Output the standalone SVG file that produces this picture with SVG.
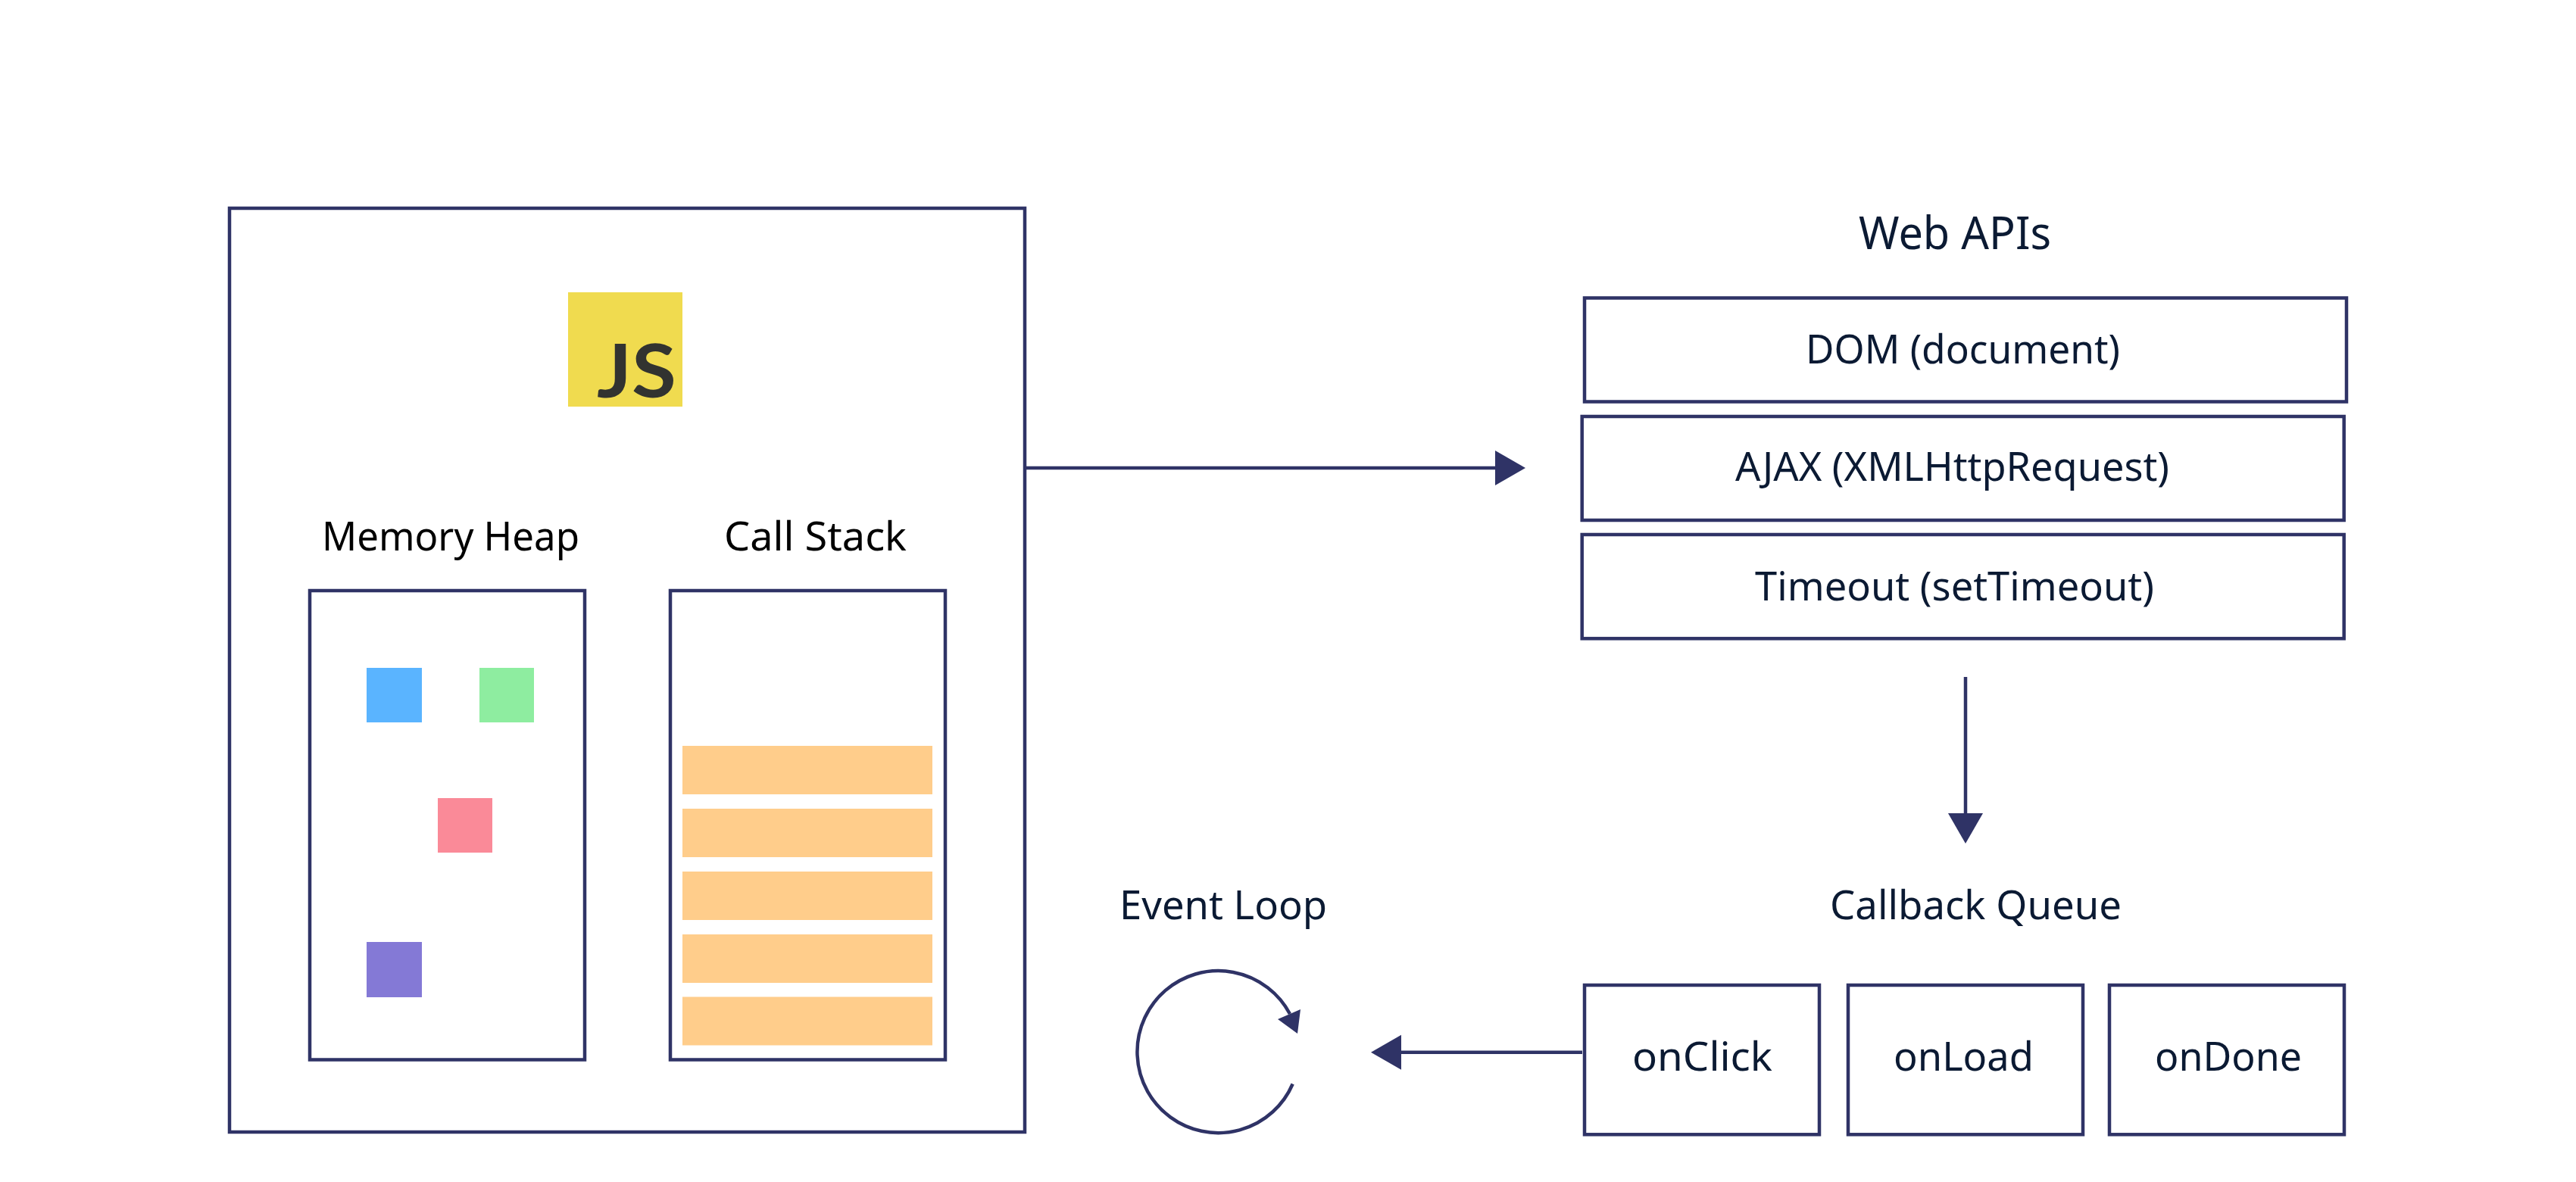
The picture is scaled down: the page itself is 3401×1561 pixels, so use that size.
<svg xmlns="http://www.w3.org/2000/svg" width="3401" height="1561" viewBox="0 0 3401 1561">
<style>
.b{fill:#fff;stroke:#2f3366;stroke-width:4.500}
.c{fill:none;stroke:#2f3366;stroke-width:4.500}
.t{font-family:"Noto Sans","Lato",sans-serif;font-size:53px;fill:#0b1a33}
.k{fill:#000}
.o{fill:#ffcd8b}
</style>
<defs>
<marker id="ah" markerUnits="userSpaceOnUse" markerWidth="42" markerHeight="48" refX="1" refY="24" orient="auto"><path d="M0 1L40 24L0 47Z" fill="#2f3366"/></marker>
</defs>
<rect width="3401" height="1561" fill="#fff"/>
<g id="engine">
<rect class="b" x="303" y="275" width="1050" height="1220"/>
<rect x="750" y="386" width="151" height="151" fill="#f0db4f"/>
<text x="788" y="525" font-family="Lato,sans-serif" font-weight="700" font-size="97" fill="#323330" textLength="105" lengthAdjust="spacingAndGlyphs">JS</text>
</g>
<g id="memory-heap">
<text class="t k" x="425" y="727" textLength="340" lengthAdjust="spacingAndGlyphs">Memory Heap</text>
<rect class="b" x="409" y="780" width="363" height="619.500"/>
<rect x="484" y="882" width="73" height="72" fill="#5ab4ff"/>
<rect x="633" y="882" width="72" height="72" fill="#8eeda0"/>
<rect x="578" y="1054" width="72" height="72" fill="#fa8a98"/>
<rect x="484" y="1244" width="73" height="73" fill="#8479d6"/>
</g>
<g id="call-stack">
<text class="t k" x="956" y="727" textLength="241" lengthAdjust="spacingAndGlyphs">Call Stack</text>
<rect class="b" x="885" y="780" width="363" height="619.500"/>
<rect class="o" x="901" y="985" width="330" height="64"/>
<rect class="o" x="901" y="1068" width="330" height="64"/>
<rect class="o" x="901" y="1151" width="330" height="64"/>
<rect class="o" x="901" y="1234" width="330" height="64"/>
<rect class="o" x="901" y="1316.500" width="330" height="64"/>
</g>
<g id="web-apis">
<text class="t" x="2454" y="329" style="font-size:60px" textLength="254" lengthAdjust="spacingAndGlyphs">Web APIs</text>
<g id="dom"><rect class="b" x="2092" y="393.500" width="1006" height="137"/>
<text class="t" x="2384" y="480" textLength="415" lengthAdjust="spacingAndGlyphs">DOM (document)</text></g>
<g id="ajax"><rect class="b" x="2088.700" y="550" width="1006" height="137"/>
<text class="t" x="2291" y="635" textLength="573" lengthAdjust="spacingAndGlyphs">AJAX (XMLHttpRequest)</text></g>
<g id="timeout"><rect class="b" x="2088.700" y="706" width="1006" height="137.300"/>
<text class="t" x="2317" y="793" textLength="527" lengthAdjust="spacingAndGlyphs">Timeout (setTimeout)</text></g>
</g>
<g id="callback-queue">
<text class="t" x="2416" y="1214" textLength="385" lengthAdjust="spacingAndGlyphs">Callback Queue</text>
<g id="onclick"><rect class="b" x="2092" y="1301" width="310" height="197.300"/>
<text class="t" x="2155" y="1414" textLength="185" lengthAdjust="spacingAndGlyphs">onClick</text></g>
<g id="onload"><rect class="b" x="2440" y="1301" width="310" height="197.300"/>
<text class="t" x="2500" y="1414" textLength="185" lengthAdjust="spacingAndGlyphs">onLoad</text></g>
<g id="ondone"><rect class="b" x="2785" y="1301" width="310" height="197.300"/>
<text class="t" x="2845" y="1414" textLength="194" lengthAdjust="spacingAndGlyphs">onDone</text></g>
</g>
<g id="event-loop">
<text class="t" x="1478" y="1214" textLength="274" lengthAdjust="spacingAndGlyphs">Event Loop</text>
<path class="c" d="M1706.700 1431.500A107 107 0 1 1 1703 1339"/>
<path d="M1717 1333L1687 1346L1713 1365Z" fill="#2f3366"/>
</g>
<g id="connectors">
<line class="c" x1="1355" y1="618" x2="1975" y2="618" marker-end="url(#ah)"/>
<line class="c" x1="2595" y1="894" x2="2595" y2="1075" marker-end="url(#ah)"/>
<line class="c" x1="2089" y1="1389.700" x2="1849" y2="1389.700" marker-end="url(#ah)"/>
</g>
</svg>
